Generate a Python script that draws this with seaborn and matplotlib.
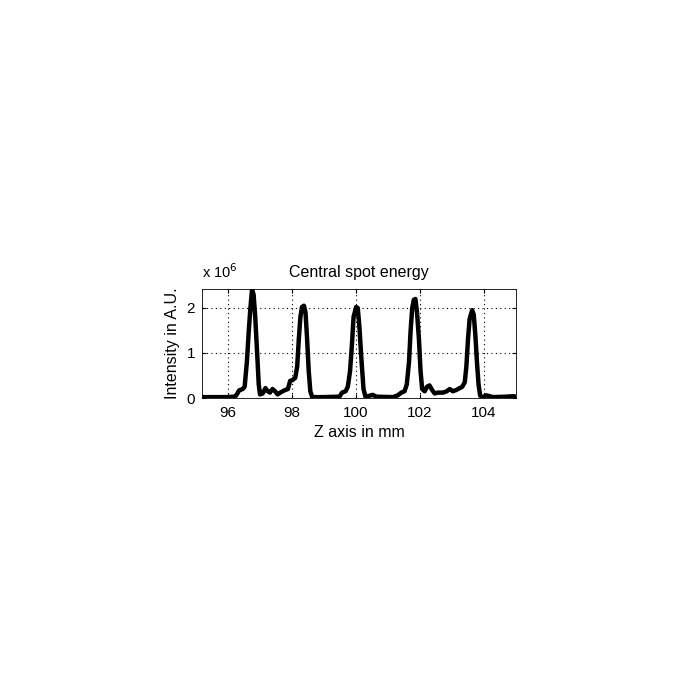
import numpy as np
import pandas as pd
import matplotlib
matplotlib.use("Agg")
import matplotlib.pyplot as plt
import seaborn as sns

# -------------------------------
# Data (intensity in units of 1e6)
# -------------------------------
z_mm = [95.17, 95.5, 95.9, 96.2, 96.26, 96.36, 96.47, 96.53, 96.6, 96.66, 96.71,
        96.76, 96.81, 96.86, 96.92, 96.97, 97.01, 97.09, 97.18, 97.25, 97.32,
        97.4, 97.48, 97.56, 97.64, 97.77, 97.88, 97.95, 98.03, 98.11, 98.17,
        98.22, 98.27, 98.32, 98.38, 98.43, 98.48, 98.53, 98.58, 98.64, 99.0,
        99.49, 99.57, 99.68, 99.75, 99.82, 99.88, 99.93, 100.01, 100.06, 100.11,
        100.18, 100.24, 100.3, 100.43, 100.53, 100.64, 101.16, 101.31, 101.42,
        101.52, 101.59, 101.66, 101.71, 101.76, 101.81, 101.86, 101.91, 101.97,
        102.02, 102.07, 102.15, 102.22, 102.3, 102.38, 102.46, 102.56, 102.72,
        102.84, 102.93, 103.03, 103.14, 103.24, 103.32, 103.4, 103.45, 103.5,
        103.55, 103.63, 103.68, 103.73, 103.78, 103.83, 103.88, 103.97, 104.07,
        104.18, 104.28, 104.7, 104.9, 105.0]
intensity = [0.02, 0.02, 0.02, 0.03, 0.05, 0.17, 0.2, 0.25, 0.8, 1.5, 2.0,
             2.4, 2.3, 1.8, 1.0, 0.3, 0.08, 0.1, 0.22, 0.15, 0.12,
             0.2, 0.15, 0.08, 0.12, 0.17, 0.2, 0.38, 0.4, 0.45, 0.7,
             1.3, 1.8, 2.02, 2.05, 1.9, 1.3, 0.6, 0.15, 0.02, 0.02,
             0.03, 0.12, 0.15, 0.25, 0.6, 1.2, 1.8, 2.02, 2.0, 1.6,
             0.8, 0.2, 0.03, 0.05, 0.07, 0.03, 0.02, 0.06, 0.12,
             0.15, 0.3, 0.8, 1.5, 2.0, 2.18, 2.2, 1.9, 1.3,
             0.6, 0.2, 0.15, 0.25, 0.28, 0.18, 0.1, 0.12, 0.12,
             0.15, 0.2, 0.15, 0.18, 0.22, 0.25, 0.35, 0.7, 1.3,
             1.75, 1.95, 1.85, 1.4, 0.8, 0.3, 0.05, 0.02, 0.06,
             0.04, 0.02, 0.03, 0.04, 0.03]
x_ticks = [96, 98, 100, 102, 104]
y_ticks = [0, 1, 2]

df = pd.DataFrame({"z": z_mm, "I": intensity})

# -------------------------------
# Style
# -------------------------------
sns.set_style("white")
plt.rcParams['font.family'] = ['Liberation Sans', 'DejaVu Sans']
plt.rcParams['text.color'] = 'black'
plt.rcParams['axes.labelcolor'] = 'black'

fig = plt.figure(figsize=(7, 7), dpi=100)
ax = fig.add_axes([0.2886, 0.4314, 0.4486, 0.1557])

sns.lineplot(data=df, x="z", y="I", color="black", linewidth=3.2, ax=ax)

ax.set_xlim(95.2, 105.0)
ax.set_ylim(0, 2.42)
ax.set_xticks(x_ticks)
ax.set_yticks(y_ticks)
ax.grid(True, color="black", linestyle=(0, (1, 3)), linewidth=0.8)
ax.tick_params(direction="in", length=3, labelsize=11, colors="black",
               top=True, right=True, bottom=True, left=True)
ax.tick_params(axis="x", pad=6)
ax.tick_params(axis="y", pad=5)
for s in ax.spines.values():
    s.set_color("black")
    s.set_linewidth(0.6)

ax.set_title("Central spot energy", fontsize=11.5, pad=9)
ax.set_xlabel("Z axis in mm", fontsize=11.5, labelpad=3)
ax.set_ylabel("Intensity in A.U.", fontsize=11.5, labelpad=5)
ax.text(0.0, 1.07, r"x 10$^{6}$", transform=ax.transAxes, fontsize=10.5,
        ha="left", va="bottom")

fig.savefig("out.png", dpi=100)
